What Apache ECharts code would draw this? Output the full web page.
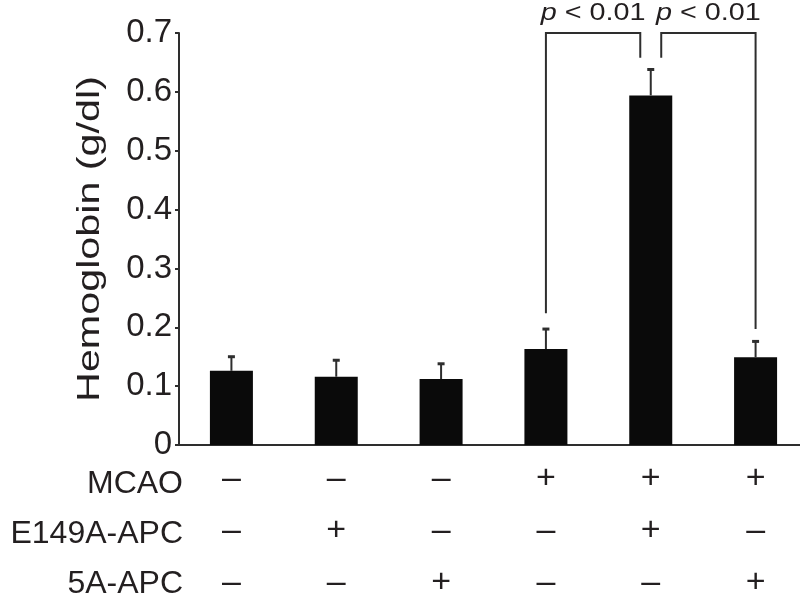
<!DOCTYPE html>
<html>
<head>
<meta charset="utf-8">
<script src="https://cdn.jsdelivr.net/npm/echarts@6/dist/echarts.min.js"></script>
<style>
html,body{margin:0;padding:0;background:#fff;}
#chart{width:800px;height:598px;}
</style>
</head>
<body>
<div id="chart"></div>
<script>
// ---- data ----
const categories = ['G1', 'G2', 'G3', 'G4', 'G5', 'G6'];
const means = [0.126, 0.116, 0.112, 0.163, 0.594, 0.149];
const errors = [0.024, 0.028, 0.026, 0.034, 0.044, 0.027];
const rowLabels = ['MCAO', 'E149A-APC', '5A-APC'];
const mcao = ['–', '–', '–', '+', '+', '+'];
const e149a = ['–', '+', '–', '–', '+', '–'];
const fiveA = ['–', '–', '+', '–', '–', '+'];
const yName = 'Hemoglobin (g/dl)';
// significance brackets: start/end category, offset within band, lower ends, top
const bracketStart = [3, 4];
const bracketStartOffset = [0, 0.1];
const bracketStartLow = [0.224, 0.658];
const bracketEnd = [4, 5];
const bracketEndOffset = [-0.1, 0];
const bracketEndLow = [0.658, 0.197];
const bracketTop = [0.70, 0.70];
const pLabels = ['p < 0.01', 'p < 0.01'];

const FONT = '"Liberation Sans", Arial, Helvetica, sans-serif';
const INK = '#231f20';
const LINE = '#2e2e2e';

const chart = echarts.init(document.getElementById('chart'));

const errData = means.map((m, i) => [i, m, m + errors[i]]);
const bracketData = bracketStart.map((s, i) => [s, bracketStartOffset[i], bracketStartLow[i], bracketEnd[i], bracketEndOffset[i], bracketEndLow[i], bracketTop[i], i]);

const option = {
  animation: false,
  backgroundColor: '#fff',
  grid: { left: 179, top: 33, width: 629, height: 412, containLabel: false, outerBoundsMode: 'none' },
  xAxis: {
    type: 'category',
    data: categories,
    axisLine: { show: true, lineStyle: { color: LINE, width: 2 } },
    axisTick: { show: false },
    axisLabel: {
      interval: 0,
      margin: 8,
      fontSize: 34,
      lineHeight: 52,
      color: INK,
      fontFamily: FONT,
      formatter: (v, idx) => [mcao[idx], e149a[idx], fiveA[idx]].join('\n')
    },
    splitLine: { show: false }
  },
  yAxis: {
    type: 'value',
    min: 0,
    max: 0.7,
    interval: 0.1,
    axisLine: { show: true, lineStyle: { color: LINE, width: 2 } },
    axisTick: { show: true, length: 4, lineStyle: { color: LINE, width: 2 } },
    axisLabel: { fontSize: 33, color: INK, margin: 7, fontFamily: FONT },
    splitLine: { show: false }
  },
  graphic: [
    {
      type: 'text', x: 90, y: 239, rotation: Math.PI / 2, scaleX: 1.29,
      style: { text: yName, font: '32px ' + FONT, fill: INK, textAlign: 'center', textVerticalAlign: 'middle', align: 'center', verticalAlign: 'middle' }
    }
  ].concat(rowLabels.map((t, i) => ({
    type: 'text', x: 183, y: 484 + 50 * i,
    style: { text: t, font: '32px ' + FONT, fill: INK, textAlign: 'right', textVerticalAlign: 'middle', align: 'right', verticalAlign: 'middle' }
  }))),
  series: [
    {
      type: 'bar',
      data: means,
      barWidth: 43,
      itemStyle: { color: '#0a0a0a' },
      silent: true,
      z: 2
    },
    {
      type: 'custom',
      data: errData,
      silent: true,
      z: 3,
      renderItem: function (params, api) {
        const x = api.value(0);
        const p0 = api.coord([x, api.value(1)]);
        const p1 = api.coord([x, api.value(2)]);
        const cap = 3.5;
        return {
          type: 'group',
          children: [
            { type: 'line', shape: { x1: p0[0], y1: p0[1], x2: p1[0], y2: p1[1] }, style: { stroke: LINE, lineWidth: 2 } },
            { type: 'line', shape: { x1: p1[0] - cap, y1: p1[1], x2: p1[0] + cap, y2: p1[1] }, style: { stroke: LINE, lineWidth: 3 } }
          ]
        };
      }
    },
    {
      type: 'custom',
      data: bracketData,
      silent: true,
      z: 4,
      renderItem: function (params, api) {
        const band = api.size([1, 0])[0];
        const xs = api.coord([api.value(0), 0])[0] + api.value(1) * band;
        const xe = api.coord([api.value(3), 0])[0] + api.value(4) * band;
        const ys = api.coord([0, api.value(2)])[1];
        const ye = api.coord([0, api.value(5)])[1];
        const yt = api.coord([0, api.value(6)])[1];
        const label = pLabels[api.value(7)];
        const rest = label.slice(1);
        return {
          type: 'group',
          children: [
            { type: 'polyline', shape: { points: [[xs, ys], [xs, yt], [xe, yt], [xe, ye]] }, style: { stroke: LINE, lineWidth: 2, fill: null } },
            {
              type: 'text', x: (xs + xe) / 2, y: yt - 20, scaleX: 1.2,
              style: {
                text: '{i|p}' + rest,
                font: '24px ' + FONT,
                fill: INK,
                textAlign: 'center', textVerticalAlign: 'middle', align: 'center', verticalAlign: 'middle',
                rich: { i: { fontStyle: 'italic', fontSize: 24, fontFamily: FONT, fill: INK, color: INK } }
              }
            }
          ]
        };
      }
    }
  ]
};
chart.setOption(option);
</script>
</body>
</html>
